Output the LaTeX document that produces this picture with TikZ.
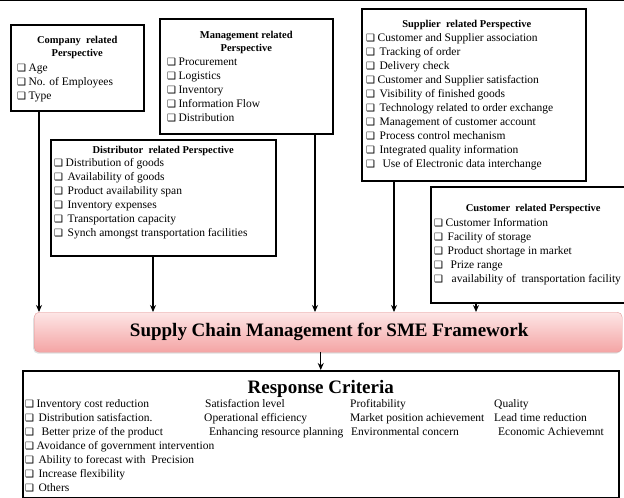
\documentclass[tikz,border=0pt]{standalone}
\usepackage{fontspec}
\setmainfont{Liberation Serif}
\newfontfamily\boxglyph{DejaVu Sans}
\usetikzlibrary{arrows.meta,positioning,shadows}

\definecolor{scmtop}{HTML}{FDE6E6}
\definecolor{scmbottom}{HTML}{F4A4A4}
\definecolor{scmline}{HTML}{E39A9A}

% check box in front of every item
\newcommand{\cb}{{\boxglyph\fontsize{10}{10}\selectfont ❑}\hspace{2.5pt}}

\tikzset{
  persp/.style={draw, line width=1.5pt, inner sep=0pt, anchor=north west},
  ptitle/.style={font=\fontsize{10.5}{13}\selectfont\bfseries, align=center, inner sep=0pt},
  plist/.style={font=\fontsize{11.5}{14}\selectfont, align=left, inner sep=0pt, anchor=north west},
  arr/.style={line width=1.3pt, -{Stealth[length=7pt,width=6pt]}},
}

\begin{document}
\begin{tikzpicture}[x=1pt,y=1pt,yscale=-1]
\useasboundingbox (0,0) rectangle (624,498);
\clip (0,0) rectangle (624,498);

% page edge
\draw[line width=0.8pt] (0,0.5) -- (624,0.5);

% Perspective boxes
\node[persp, minimum width=133pt, minimum height=86pt]  (comp) at (10,24)  {};
\node[persp, minimum width=173pt, minimum height=115pt] (mgmt) at (159,18) {};
\node[persp, minimum width=224pt, minimum height=172pt] (supp) at (361,8)  {};
\node[persp, minimum width=225pt, minimum height=116pt] (dist) at (50,139) {};
\node[persp, minimum width=205pt, minimum height=116pt] (cust) at (430,186) {};

% Company related
\node[ptitle, below=12pt of comp.north] (compt) {Company\ \ related\\Perspective};
\node[plist, below right=40pt and 7pt of comp.north west] (compl)
  {\cb Age\\ \cb No. of Employees\\ \cb Type};

% Management related
\node[ptitle, below=13pt of mgmt.north] (mgmtt) {Management related\\Perspective};
\node[plist, below right=40pt and 8pt of mgmt.north west] (mgmtl)
  {\cb Procurement\\ \cb Logistics\\ \cb Inventory\\ \cb Information Flow\\ \cb Distribution};

% Supplier related
\node[ptitle, below=12pt of supp.north, xshift=-7pt] (suppt) {Supplier\ \ related Perspective};
\node[plist, below right=25pt and 5pt of supp.north west] (suppl)
  {\cb Customer and Supplier association\\
   \cb\hspace{2pt}Tracking of order\\
   \cb\hspace{2pt}Delivery check\\
   \cb Customer and Supplier satisfaction\\
   \cb\hspace{2pt}Visibility of finished goods\\
   \cb\hspace{2pt}Technology related to order exchange\\
   \cb\hspace{2pt}Management of customer account\\
   \cb\hspace{2pt}Process control mechanism\\
   \cb\hspace{2pt}Integrated quality information\\
   \cb\hspace{5pt}Use of Electronic data interchange};

% Distributor related
\node[ptitle, below=7pt of dist.north] (distt) {Distributor\ \ related Perspective};
\node[plist, below right=19pt and 4pt of dist.north west] (distl)
  {\cb Distribution of goods\\
   \cb\hspace{2pt}Availability of goods\\
   \cb\hspace{2pt}Product availability span\\
   \cb\hspace{2pt}Inventory expenses\\
   \cb\hspace{2pt}Transportation capacity\\
   \cb\hspace{2pt}Synch amongst transportation facilities};

% Customer related
\node[ptitle, below=18pt of cust.north] (custt) {Customer\ \ related Perspective};
\node[plist, below right=32pt and 4pt of cust.north west] (custl)
  {\cb Customer Information\\
   \cb\hspace{2pt}Facility of storage\\
   \cb\hspace{2pt}Product shortage in market\\
   \cb\hspace{5pt}Prize range\\
   \cb\hspace{6pt}availability of\ \ transportation facility};

% Framework bar
\node[anchor=north west, minimum width=588pt, minimum height=40pt, rounded corners=5pt,
      draw=scmline, top color=scmtop, bottom color=scmbottom,
      drop shadow={shadow xshift=-1pt, shadow yshift=-1.5pt, opacity=0.25},
      font=\fontsize{19}{22}\selectfont\bfseries] (scm) at (34,312)
  {\hspace{2pt}Supply Chain Management for SME Framework};

% Response criteria
\node[persp, minimum width=596pt, minimum height=127pt] (resp) at (22,370) {};
\node[ptitle, below=10pt of resp.north, font=\fontsize{19}{22}\selectfont\bfseries] (respt)
  {Response Criteria};
\node[plist, below right=29pt and 3pt of resp.north west] (resp1)
  {\cb Inventory cost reduction\\
   \cb\hspace{2pt}Distribution satisfaction.\\
   \cb\hspace{5pt}Better prize of the product\\
   \cb Avoidance of government intervention\\
   \cb\hspace{2pt}Ability to forecast with\ \ Precision\\
   \cb\hspace{2pt}Increase flexibility\\
   \cb\hspace{2pt}Others};
\node[plist, below right=29pt and 182pt of resp.north west] (resp2)
  {\hspace{1pt}Satisfaction level\\ Operational efficiency\\ \hspace{5pt}Enhancing resource planning};
\node[plist, below right=29pt and 328pt of resp.north west] (resp3)
  {Profitability\\ Market position achievement\\ \hspace{1pt}Environmental concern};
\node[plist, below right=29pt and 472pt of resp.north west] (resp4)
  {Quality\\ Lead time reduction\\ \hspace{4pt}Economic Achievemnt};

% Connectors
\draw[arr] ([xshift=29pt]comp.south west)  -- ([xshift=29pt]comp.south west |- scm.north);
\draw[arr] ([xshift=103pt]dist.south west) -- ([xshift=103pt]dist.south west |- scm.north);
\draw[arr] ([xshift=156pt]mgmt.south west) -- ([xshift=156pt]mgmt.south west |- scm.north);
\draw[arr] ([xshift=33pt]supp.south west)  -- ([xshift=33pt]supp.south west |- scm.north);
\draw[arr] ([xshift=46pt]cust.south west)  -- ([xshift=46pt]cust.south west |- scm.north);
\draw[arr] (resp.north |- scm.south) -- (resp.north);

\end{tikzpicture}
\end{document}
